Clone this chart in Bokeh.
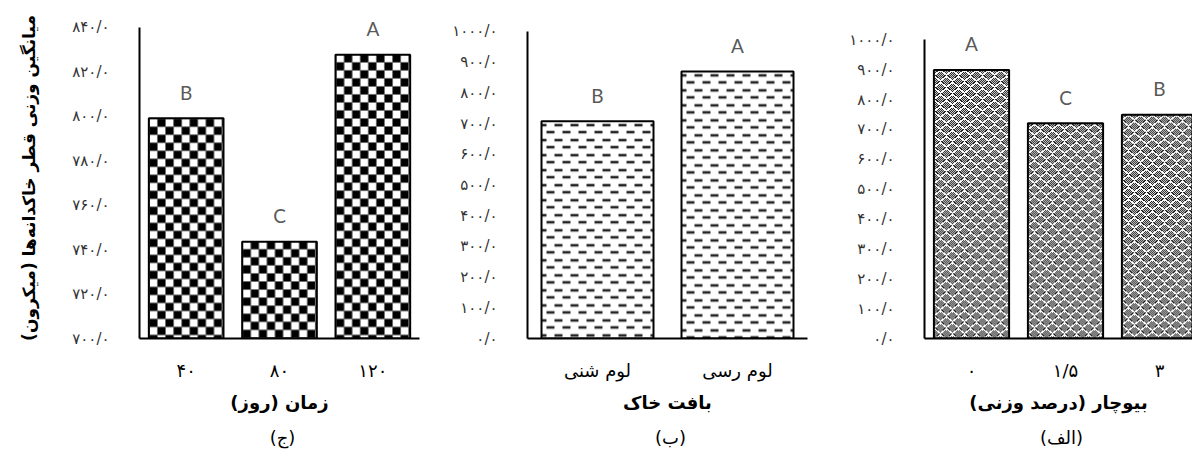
import numpy as np
from bokeh.plotting import figure
from bokeh.layouts import row
from bokeh.models import Range1d, FixedTicker, ColumnDataSource, Title
from bokeh.core.properties import value
from bokeh.embed import file_html
from bokeh.resources import INLINE

RLM = "\u200f"


def fa(s):
    return RLM + s + RLM


# ---------------- data ----------------
# panel (ج): time
time_days = ["۴۰", "۸۰", "۱۲۰"]
time_mwd = [799.0, 743.5, 827.5]
time_letters = ["B", "C", "A"]
time_yticks = [700, 720, 740, 760, 780, 800, 820, 840]
time_ytick_labels = ["۷۰۰/۰", "۷۲۰/۰", "۷۴۰/۰", "۷۶۰/۰", "۷۸۰/۰", "۸۰۰/۰", "۸۲۰/۰", "۸۴۰/۰"]

# panel (ب): soil texture
texture_names = ["لوم شنی", "لوم رسی"]
texture_mwd = [708.0, 870.0]
texture_letters = ["B", "A"]

# panel (الف): biochar
biochar_levels = ["۰", "۱/۵", "۳"]
biochar_mwd = [899.0, 721.0, 749.0]
biochar_letters = ["A", "C", "B"]

yticks_1000 = [0, 100, 200, 300, 400, 500, 600, 700, 800, 900, 1000]
ytick_labels_1000 = ["۰/۰", "۱۰۰/۰", "۲۰۰/۰", "۳۰۰/۰", "۴۰۰/۰", "۵۰۰/۰",
                     "۶۰۰/۰", "۷۰۰/۰", "۸۰۰/۰", "۹۰۰/۰", "۱۰۰۰/۰"]

y_title = "میانگین وزنی قطر خاکدانه‌ها (میکرون)"


# ---------------- fill patterns (pixel textures) ----------------
def pattern_gray(kind, nx, ny):
    """gray level (0..255) per pixel, row 0 = top"""
    X, Y = np.meshgrid(np.arange(nx), np.arange(ny))
    if kind == "checker":
        g = np.where(((X // 8) + (Y // 8)) % 2 == 0, 255, 0)
        g = np.where((X % 8 == 0) | (Y % 8 == 0), 110, g)
    elif kind == "dashes":
        g = np.full((ny, nx), 255)
        ry = Y % 15
        xx = (X + 3) % 16
        row1 = ((ry == 3) | (ry == 4)) & (xx < 8)
        row2 = ((ry == 10) | (ry == 11)) & (xx >= 8)
        g = np.where(row1 | row2, 35, g)
        edge1 = ((ry == 2) | (ry == 5)) & (xx < 8)
        edge2 = ((ry == 9) | (ry == 12)) & (xx >= 8)
        g = np.where(edge1 | edge2, 190, g)
    else:  # weave
        xt = X % 12
        yt = Y % 12
        g = np.where((X + Y) % 2 == 0, 40, 210)
        for shift_x, shift_y in ((0, 0), (6, 6)):
            xs_ = (xt + shift_x) % 12
            yz = 1 + np.abs(xs_ - 6) * 0.75
            d = np.abs(((yt - shift_y) % 12) - yz)
            g = np.where((d > 1.0) & (d <= 1.7), 20, g)
        for shift_x, shift_y in ((0, 0), (6, 6)):
            xs_ = (xt + shift_x) % 12
            yz = 1 + np.abs(xs_ - 6) * 0.75
            d = np.abs(((yt - shift_y) % 12) - yz)
            g = np.where(d <= 1.0, 255, g)
    return g.astype(np.uint8)


def rgba_image(kind, nx, ny):
    g = pattern_gray(kind, nx, ny)[::-1]  # bokeh image row 0 = bottom
    arr = np.empty((ny, nx, 4), dtype=np.uint8)
    arr[..., 0] = g
    arr[..., 1] = g
    arr[..., 2] = g
    arr[..., 3] = 255
    return arr.view(np.uint32).reshape(ny, nx)


PERSIAN = "DejaVu Sans"
HEIGHT = 457
FRAME_TOP = 17
FRAME_BOTTOM = 338
BAR_W = 0.8


def make_panel(width, bl, br, x_end, y_start, y_end, y_bounds,
               yticks, ylabels, cats, vals, letters, kind,
               xtitle, subtitle, ytitle=None):
    p = figure(width=width, height=HEIGHT, output_backend="svg", toolbar_location=None,
               x_range=Range1d(-0.5, x_end), y_range=Range1d(y_start, y_end),
               min_border_left=bl, min_border_right=br, min_border_top=FRAME_TOP,
               min_border_bottom=HEIGHT - FRAME_BOTTOM)
    p.outline_line_color = None
    p.grid.visible = False
    p.background_fill_color = "white"
    p.border_fill_color = "white"

    frame_w = width - bl - br
    frame_h = FRAME_BOTTOM - FRAME_TOP
    px_x = frame_w / (x_end + 0.5)
    px_y = frame_h / (y_end - y_start)

    xs = list(range(len(cats)))
    bottom = y_bounds[0]
    imgs, ix, iy, idw, idh = [], [], [], [], []
    for x, v in zip(xs, vals):
        nx = max(1, int(round(BAR_W * px_x)))
        ny = max(1, int(round((v - bottom) * px_y)))
        imgs.append(rgba_image(kind, nx, ny))
        ix.append(x - BAR_W / 2)
        iy.append(bottom)
        idw.append(BAR_W)
        idh.append(v - bottom)
    p.image_rgba(image=imgs, x=ix, y=iy, dw=idw, dh=idh)

    src = ColumnDataSource(dict(x=xs, v=vals, letter=letters))
    p.vbar(x="x", top="v", bottom=bottom, width=BAR_W, source=src,
           fill_color=None, line_color="black", line_width=2)
    p.text(x="x", y="v", text="letter", source=src, text_align="center",
           text_baseline="alphabetic", y_offset=-26, text_color="#595959",
           text_font=value("Lato"), text_font_size="19px")

    # y axis
    ya = p.yaxis[0]
    ya.ticker = FixedTicker(ticks=yticks)
    ya.major_label_overrides = {t: l for t, l in zip(yticks, ylabels)}
    ya.bounds = y_bounds
    ya.axis_line_width = 2
    ya.axis_line_color = "black"
    ya.major_tick_line_color = None
    ya.minor_tick_line_color = None
    ya.major_label_standoff = 24
    ya.major_label_text_font = PERSIAN
    ya.major_label_text_font_size = "15px"
    ya.major_label_text_color = "#333333"
    if ytitle:
        ya.axis_label = fa(ytitle)
        ya.axis_label_text_font = PERSIAN
        ya.axis_label_text_font_style = "bold"
        ya.axis_label_text_font_size = "17px"
        ya.axis_label_text_color = "black"
        ya.axis_label_standoff = 30

    # x axis
    xa = p.xaxis[0]
    xa.ticker = FixedTicker(ticks=xs)
    xa.major_label_overrides = {i: fa(c) for i, c in zip(xs, cats)}
    xa.axis_line_width = 2
    xa.axis_line_color = "black"
    xa.major_tick_line_color = None
    xa.minor_tick_line_color = None
    xa.major_label_standoff = 15
    xa.major_label_text_font = PERSIAN
    xa.major_label_text_font_size = "18px"
    xa.major_label_text_color = "black"
    xa.axis_label = fa(xtitle)
    xa.axis_label_text_font = PERSIAN
    xa.axis_label_text_font_style = "bold"
    xa.axis_label_text_font_size = "18px"
    xa.axis_label_text_color = "black"
    xa.axis_label_standoff = 8

    t = Title(text=fa(subtitle), align="center", text_font=PERSIAN,
              text_font_size="18px", text_font_style="normal",
              text_color="black", standoff=18)
    try:
        t.padding = (6, 0, 0, 0)
    except Exception:
        pass
    p.add_layout(t, "below")
    return p


p1 = make_panel(420, 139, 1, 2.5, 700, 844.3, (700, 840),
                time_yticks, time_ytick_labels, time_days, time_mwd, time_letters,
                "checker", "زمان (روز)", "(ج)", ytitle=y_title)
p2 = make_panel(388, 107, 1, 1.5, 0, 1045.6, (0, 1000),
                yticks_1000, ytick_labels_1000, texture_names, texture_mwd, texture_letters,
                "dashes", "بافت خاک", "(ب)")
p3 = make_panel(384, 116, 0, -0.5 + 268 / 94, 0, 1074.7, (0, 1000),
                yticks_1000, ytick_labels_1000, biochar_levels, biochar_mwd, biochar_letters,
                "weave", "بیوچار (درصد وزنی)", "(الف)")

layout = row(p1, p2, p3)
open("out.html", "w").write(file_html(layout, INLINE))
